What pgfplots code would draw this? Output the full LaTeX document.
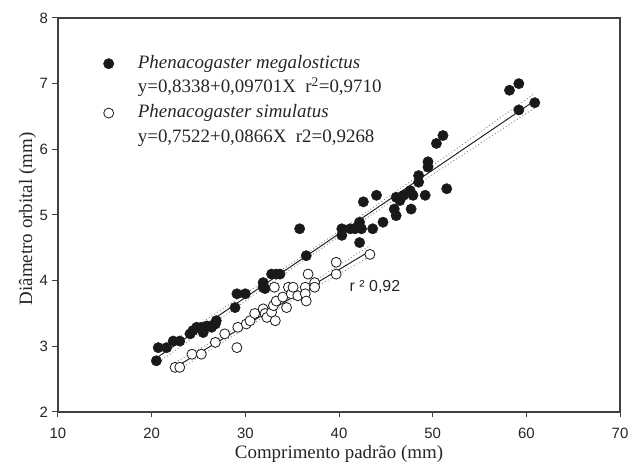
\documentclass[border=0pt]{standalone}
\usepackage{fontspec}
\setmainfont{Liberation Serif}
\setsansfont{Liberation Sans}
\usepackage{pgfplots}
\pgfplotsset{compat=1.18}
\definecolor{axisgray}{HTML}{404040}
\definecolor{dotgray}{HTML}{808080}
\begin{document}
\begin{tikzpicture}[x=1bp,y=1bp]
\useasboundingbox (-58,-53) rectangle (571,412);
\begin{axis}[
  at={(0,0)}, anchor=south west, scale only axis,
  width=562bp, height=394bp,
  xmin=10, xmax=70, ymin=2, ymax=8,
  xtick={10,20,30,40,50,60,70}, ytick={2,3,4,5,6,7,8},
  tick align=outside, xtick pos=bottom, ytick pos=left,
  major tick length=5.5bp,
  axis line style={axisgray, line width=1.1bp},
  tick style={axisgray, line width=1bp},
  /pgf/number format/assume math mode=true,
  ticklabel style={font=\sffamily\fontsize{15}{15}\selectfont, text=black!85},
  xticklabel style={yshift=-7bp},
  yticklabel style={xshift=-1bp},
  xlabel={Comprimento padrão (mm)},
  ylabel={Diâmetro orbital (mm)},
  label style={font=\fontsize{19}{21}\selectfont, text=black!85},
  xlabel style={at={(axis description cs:0.5,-0.107)}, anchor=center},
  ylabel style={at={(axis description cs:-0.054,0.49)}, anchor=center},
  legend style={draw=none, fill=none, inner sep=0pt,
    at={(0.0747,0.9124)}, anchor=north west,
    font=\fontsize{19}{21}\selectfont, text=black!85,
    nodes={text height=13.5bp, text depth=4.5bp},
    row sep=2.7bp,
    /tikz/every odd column/.append style={column sep=22bp}},
  legend cell align=left,
]
% confidence bands
\addplot[dotgray, line width=0.9bp, dash pattern=on 0.9bp off 2.4bp, forget plot] coordinates {
(20.5,2.911) (25,3.330) (30,3.798) (35,4.271) (40,4.755) (45,5.250) (50,5.752) (55,6.256) (60.9,6.852)};
\addplot[dotgray, line width=0.9bp, dash pattern=on 0.9bp off 2.4bp, forget plot] coordinates {
(20.5,2.734) (25,3.188) (30,3.690) (35,4.187) (40,4.673) (45,5.148) (50,5.617) (55,6.083) (60.9,6.631)};
\addplot[dotgray, line width=0.9bp, dash pattern=on 0.9bp off 2.4bp, forget plot] coordinates {
(22.5,2.754) (26,3.034) (30,3.360) (34,3.701) (38,4.055) (43.3,4.534)};
\addplot[dotgray, line width=0.9bp, dash pattern=on 0.9bp off 2.4bp, forget plot] coordinates {
(22.5,2.607) (26,2.922) (30,3.276) (34,3.617) (38,3.943) (43.3,4.366)};
% regression lines
\addplot[black!85, line width=1bp, forget plot] coordinates {(20.5,2.822) (60.9,6.742)};
\addplot[black!85, line width=1bp, forget plot] coordinates {(22.5,2.68) (43.3,4.45)};
% Phenacogaster megalostictus
\addplot[only marks, mark=*, mark size=5.2bp, mark options={fill=black!90, draw=black!90}, forget plot] coordinates {
(20.5,2.78) (20.7,2.98) (21.6,2.98) (22.3,3.08) (23.0,3.08) (24.1,3.19) (24.4,3.24)
(24.8,3.29) (25.3,3.29) (25.5,3.21) (25.9,3.31) (26.4,3.29) (26.8,3.34) (26.9,3.39)
(28.9,3.59) (29.1,3.80) (30.0,3.80) (31.9,3.97) (31.9,3.90) (32.1,3.88) (32.8,4.10)
(33.3,4.10) (33.7,4.10) (35.8,4.79) (36.5,4.38) (40.3,4.79) (40.3,4.69) (41.2,4.79)
(41.7,4.79) (42.2,4.89) (42.4,4.79) (42.2,4.58) (42.6,5.20) (43.6,4.79) (44.0,5.30)
(44.7,4.89) (46.1,5.27) (46.5,5.22) (46.9,5.30) (45.9,5.09) (46.1,4.99) (47.6,5.37)
(47.9,5.30) (47.7,5.09) (48.5,5.50) (48.5,5.60) (49.2,5.30) (49.5,5.73) (49.5,5.81)
(50.4,6.09) (51.1,6.21) (51.5,5.40) (58.2,6.90) (59.2,7.00) (59.2,6.60) (60.9,6.71)};
% Phenacogaster simulatus
\addplot[only marks, mark=*, mark size=5bp, mark options={fill=white, draw=black!90, line width=0.8bp}, forget plot] coordinates {
(22.5,2.68) (23.0,2.68) (24.3,2.88) (25.3,2.88) (26.8,3.06) (27.8,3.19) (29.1,2.98)
(29.2,3.29) (30.1,3.34) (30.5,3.39) (31.0,3.50) (31.9,3.57) (32.1,3.50) (32.3,3.44)
(32.8,3.52) (33.0,3.62) (33.2,3.39) (33.3,3.69) (33.1,3.90) (34.0,3.75) (34.4,3.59)
(34.6,3.90) (34.9,3.80) (35.1,3.90) (35.6,3.77) (36.4,3.90) (36.4,3.80) (36.5,3.69)
(36.7,4.10) (37.4,3.97) (37.4,3.90) (39.7,4.28) (39.7,4.10) (43.3,4.40)};
% legend
\addlegendimage{only marks, mark=*, mark size=5.2bp, mark options={fill=black!90, draw=black!90}}
\addlegendentry{\textit{Phenacogaster megalostictus}}
\addlegendimage{empty legend}
\addlegendentry{y=0,8338+0,09701X\ \ r\textsuperscript{2}=0,9710}
\addlegendimage{only marks, mark=*, mark size=5bp, mark options={fill=white, draw=black!90, line width=0.8bp}}
\addlegendentry{\textit{Phenacogaster simulatus}}
\addlegendimage{empty legend}
\addlegendentry{y=0,7522+0,0866X\ \ r2=0,9268}
\node[font=\sffamily\fontsize{16}{16}\selectfont, text=black!85] at (axis cs:43.84,3.90) {r ² 0,92};
\end{axis}
\end{tikzpicture}
\end{document}
